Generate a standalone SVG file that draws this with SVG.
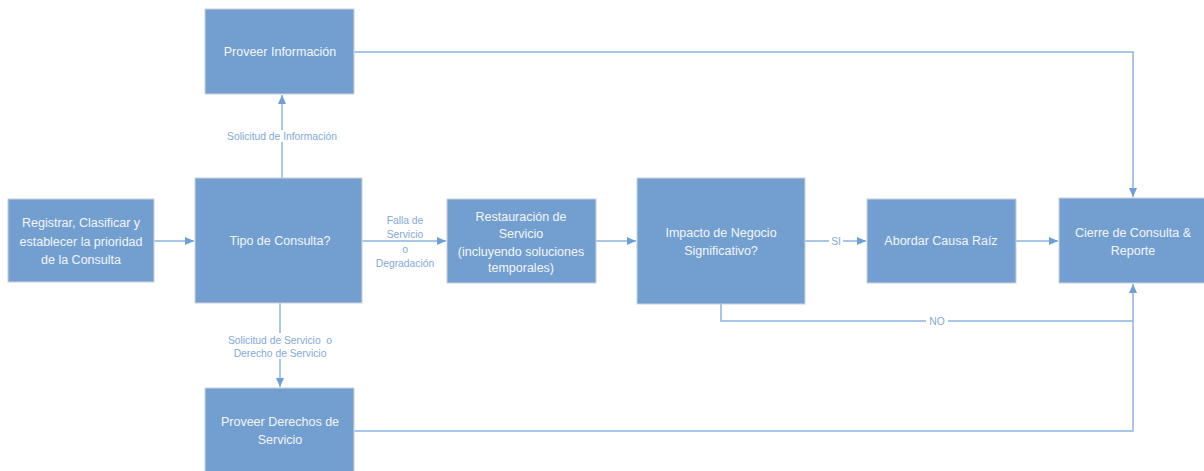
<svg xmlns="http://www.w3.org/2000/svg" width="1204" height="471" viewBox="0 0 1204 471">
<style>
.box{fill:#729fcf;stroke:#c9d2dc;stroke-width:1}
.t{font-family:"Liberation Sans",Arial,sans-serif;font-size:12.5px;fill:#f2f6fb;text-anchor:middle}
.l{font-family:"Liberation Sans",Arial,sans-serif;font-size:10.3px;fill:#82a9da;text-anchor:middle}
.c{fill:none;stroke:#8db3e2;stroke-width:1.5}
.bg{fill:#ffffff}
</style>
<defs>
<marker id="ah" markerWidth="10" markerHeight="10" refX="9" refY="5" orient="auto" markerUnits="userSpaceOnUse">
<path d="M0,1 L9,5 L0,9 Z" fill="#6e9fd8"/>
</marker>
</defs>
<g id="connectors">
<line class="c" x1="154" y1="241" x2="194" y2="241" marker-end="url(#ah)"/>
<line class="c" x1="282" y1="178" x2="282" y2="95" marker-end="url(#ah)"/>
<line class="c" x1="280" y1="303" x2="280" y2="387" marker-end="url(#ah)"/>
<line class="c" x1="362" y1="241" x2="446" y2="241" marker-end="url(#ah)"/>
<line class="c" x1="596" y1="241" x2="636" y2="241" marker-end="url(#ah)"/>
<line class="c" x1="805" y1="241" x2="866" y2="241" marker-end="url(#ah)"/>
<line class="c" x1="1016" y1="241" x2="1058" y2="241" marker-end="url(#ah)"/>
<polyline class="c" points="354,52 1133,52 1133,197" marker-end="url(#ah)"/>
<polyline class="c" points="721,304 721,321 1133,321"/>
<polyline class="c" points="354,431 1133,431 1133,284" marker-end="url(#ah)"/>
<rect class="bg" x="222" y="130" width="120" height="12"/>
<text class="l" x="282" y="140">Solicitud de Información</text>
<rect class="bg" x="222" y="333" width="118" height="26"/>
<text class="l" x="280" y="344" xml:space="preserve">Solicitud de Servicio  o</text>
<text class="l" x="280" y="357">Derecho de Servicio</text>
<text class="l" x="405" y="224">Falla de</text>
<rect class="bg" x="382" y="229" width="46" height="11"/>
<text class="l" x="405" y="238">Servicio</text>
<text class="l" x="405" y="253">o</text>
<text class="l" x="405" y="267">Degradación</text>
<rect class="bg" x="829" y="236" width="14" height="10"/>
<text class="l" x="836" y="245">SI</text>
<rect class="bg" x="926" y="316" width="22" height="10"/>
<text class="l" x="937" y="325">NO</text>
</g>
<g id="registrar">
<rect class="box" x="8" y="199" width="146" height="83"/>
<text class="t" x="81" y="227">Registrar, Clasificar y</text>
<text class="t" x="81" y="246">establecer la prioridad</text>
<text class="t" x="81" y="264">de la Consulta</text>
</g>
<g id="tipo">
<rect class="box" x="195" y="178" width="167" height="125"/>
<text class="t" x="280" y="245">Tipo de Consulta?</text>
</g>
<g id="proveer-info">
<rect class="box" x="205" y="9" width="149" height="85"/>
<text class="t" x="280" y="56">Proveer Información</text>
</g>
<g id="proveer-derechos">
<rect class="box" x="205" y="388" width="149" height="85"/>
<text class="t" x="280" y="426">Proveer Derechos de</text>
<text class="t" x="280" y="444">Servicio</text>
</g>
<g id="restauracion">
<rect class="box" x="447" y="199" width="149" height="84"/>
<text class="t" x="521" y="221">Restauración de</text>
<text class="t" x="521" y="238">Servicio</text>
<text class="t" x="521" y="256">(incluyendo soluciones</text>
<text class="t" x="521" y="272">temporales)</text>
</g>
<g id="impacto">
<rect class="box" x="637" y="178" width="168" height="126"/>
<text class="t" x="721" y="237">Impacto de Negocio</text>
<text class="t" x="721" y="255">Significativo?</text>
</g>
<g id="abordar">
<rect class="box" x="867" y="199" width="149" height="84"/>
<text class="t" x="941" y="245">Abordar Causa Raíz</text>
</g>
<g id="cierre">
<rect class="box" x="1059" y="198" width="148" height="85"/>
<text class="t" x="1133" y="237">Cierre de Consulta &amp;</text>
<text class="t" x="1133" y="255">Reporte</text>
</g>
</svg>
